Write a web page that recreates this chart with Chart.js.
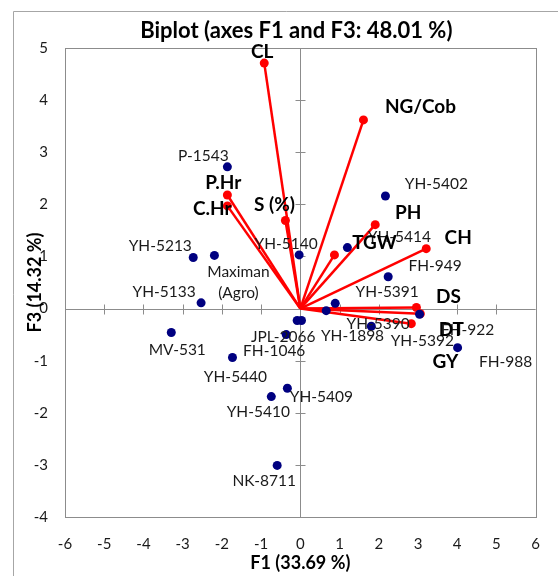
<!DOCTYPE html>
<html>
<head>
<meta charset="utf-8">
<script src="https://cdn.jsdelivr.net/npm/chart.js@4.4.1/dist/chart.umd.min.js"></script>
<style>
  html, body { margin: 0; padding: 0; background: #fff; }
  #wrap { width: 558px; height: 576px; position: relative; }
</style>
</head>
<body>
<div id="wrap"><canvas id="biplot" width="558" height="576"></canvas></div>
<script>
// axis ranges (F1 horizontal, F3 vertical)
const f1Range = [-6, 6];
const f3Range = [-4, 5];

// observations (genotypes)
const obsNames = ['P-1543', 'YH-5402', 'YH-5414', 'YH-5140', 'YH-5213', 'Maximan\n(Agro)', 'YH-5133',
  'FH-949', 'YH-5391', 'YH-5390', 'YH-1898', 'JPL-2066', 'FH-1046', 'YH-5392', 'FH-922', 'FH-988',
  'MV-531', 'YH-5440', 'YH-5409', 'YH-5410', 'NK-8711'];
const obsF1 = [-1.86, 2.17, 1.20, -0.03, -2.73, -2.19, -2.53, 2.24, 0.89, 0.66, 0.03, -0.08, -0.36,
  1.81, 3.04, 4.01, -3.29, -1.73, -0.33, -0.74, -0.59];
const obsF3 = [2.72, 2.16, 1.17, 1.03, 0.98, 1.02, 0.11, 0.61, 0.10, -0.04, -0.23, -0.23, -0.50,
  -0.34, -0.11, -0.75, -0.46, -0.94, -1.53, -1.69, -3.01];

// variables (traits)
const varNames = ['CL', 'NG/Cob', 'P.Hr', 'C.Hr', 'S (%)', 'TGW', 'PH', 'CH', 'DS', 'DT', 'GY'];
const varF1 = [-0.92, 1.61, -1.86, -1.86, -0.38, 0.87, 1.91, 3.21, 2.96, 3.06, 2.83];
const varF3 = [4.71, 3.62, 2.18, 1.97, 1.69, 1.03, 1.61, 1.15, 0.02, -0.10, -0.29];

// label offsets in pixels from each point (label centre)
const obsLabelOffset = [[-24, -11], [51, -12], [52, -11], [-13, -11], [-33, -11], [24, 17], [-37, -11],
  [47, -11], [52, -11], [52, 13], [51, 15], [-14, 16], [-12, 16], [51, 15], [48, 16], [48, 14],
  [6, 17], [3, 19], [34, 9], [-13, 15], [-13, 16]];
const varLabelOffset = [[-2, -11], [57, -13], [-4, -12], [-15, 3], [-11, -16], [40, -12], [33, -12],
  [32, -11], [32, -11], [31, 16], [34, 38]];

const AXIS_GREY = '#8c8c8c';

const datasets = [{
  label: 'Observations',
  data: obsF1.map((x, i) => ({ x: x, y: obsF3[i] })),
  pointRadius: 4.5,
  pointBackgroundColor: '#000080',
  pointBorderWidth: 0,
  showLine: false
}];
varNames.forEach((name, i) => {
  datasets.push({
    label: name,
    data: [{ x: 0, y: 0 }, { x: varF1[i], y: varF3[i] }],
    showLine: true,
    borderColor: '#ff0000',
    borderWidth: 2.5,
    pointRadius: [0, 4.5],
    pointBackgroundColor: '#ff0000',
    pointBorderWidth: 0
  });
});

// frame, zero axes, titles and point labels
const biplotDecor = {
  id: 'biplotDecor',
  beforeDraw(chart) {
    const ctx = chart.ctx;
    ctx.save();
    ctx.strokeStyle = '#a6a6a6';
    ctx.lineWidth = 1;
    ctx.beginPath();
    ctx.moveTo(13.5, 600);
    ctx.lineTo(13.5, 11.5);
    ctx.lineTo(600, 11.5);
    ctx.stroke();
    ctx.restore();
  },
  beforeDatasetsDraw(chart) {
    const { ctx, chartArea: a, scales: { x, y } } = chart;
    ctx.save();
    ctx.strokeStyle = AXIS_GREY;
    ctx.lineWidth = 1;
    ctx.strokeRect(Math.round(a.left) + 0.5, Math.round(a.top) + 0.5,
      Math.round(a.right - a.left), Math.round(a.bottom - a.top));
    const x0 = Math.round(x.getPixelForValue(0)) + 0.5;
    const y0 = Math.round(y.getPixelForValue(0)) + 0.5;
    ctx.beginPath();
    ctx.moveTo(x0, a.top); ctx.lineTo(x0, a.bottom);
    ctx.moveTo(a.left, y0); ctx.lineTo(a.right, y0);
    for (let v = f1Range[0] + 1; v < f1Range[1]; v++) {
      const px = Math.round(x.getPixelForValue(v)) + 0.5;
      ctx.moveTo(px, y0 - 5); ctx.lineTo(px, y0 + 5);
    }
    for (let v = f3Range[0] + 1; v < f3Range[1]; v++) {
      const py = Math.round(y.getPixelForValue(v)) + 0.5;
      ctx.moveTo(x0 - 5, py); ctx.lineTo(x0 + 5, py);
    }
    ctx.stroke();
    ctx.restore();
  },
  afterDatasetsDraw(chart) {
    const { ctx, chartArea: a, scales: { x, y } } = chart;
    ctx.save();
    ctx.textAlign = 'center';
    ctx.textBaseline = 'middle';

    ctx.fillStyle = '#1a1a1a';
    ctx.font = '15.5px Lato';
    obsNames.forEach((name, i) => {
      const px = x.getPixelForValue(obsF1[i]) + obsLabelOffset[i][0];
      const py = y.getPixelForValue(obsF3[i]) + obsLabelOffset[i][1];
      name.split('\n').forEach((line, k) => ctx.fillText(line, px, py + k * 21));
    });

    ctx.fillStyle = '#000';
    ctx.font = 'bold 19px Lato';
    varNames.forEach((name, i) => {
      const px = x.getPixelForValue(varF1[i]) + varLabelOffset[i][0];
      const py = y.getPixelForValue(varF3[i]) + varLabelOffset[i][1];
      ctx.fillText(name, px, py);
    });

    // chart and axis titles
    const cx = (a.left + a.right) / 2;
    ctx.font = 'bold 22px Lato';
    ctx.fillText('Biplot (axes F1 and F3: 48.01 %)', cx - 4, 31);
    ctx.font = 'bold 18px Lato';
    ctx.fillText('F1 (33.69 %)', cx, 563);
    ctx.translate(35, (a.top + a.bottom) / 2);
    ctx.rotate(-Math.PI / 2);
    ctx.fillText('F3 (14.32 %)', 0, 0);
    ctx.restore();
  }
};

new Chart(document.getElementById('biplot'), {
  type: 'scatter',
  data: { datasets: datasets },
  options: {
    responsive: false,
    animation: false,
    layout: { padding: { left: 0, right: 21, top: 48, bottom: 0 } },
    plugins: { legend: { display: false }, tooltip: { enabled: false }, title: { display: false } },
    scales: {
      x: {
        type: 'linear', min: f1Range[0], max: f1Range[1],
        grid: { display: false, drawTicks: false },
        border: { display: false },
        ticks: { stepSize: 1, padding: 18, color: '#1a1a1a', font: { family: 'Lato', size: 15 } },
        afterFit(scale) { scale.height = 59; }
      },
      y: {
        type: 'linear', min: f3Range[0], max: f3Range[1],
        grid: { display: false, drawTicks: false },
        border: { display: false },
        ticks: { stepSize: 1, padding: 17, color: '#1a1a1a', font: { family: 'Lato', size: 15 } },
        afterFit(scale) { scale.width = 65; }
      }
    }
  },
  plugins: [biplotDecor]
});
</script>
</body>
</html>
